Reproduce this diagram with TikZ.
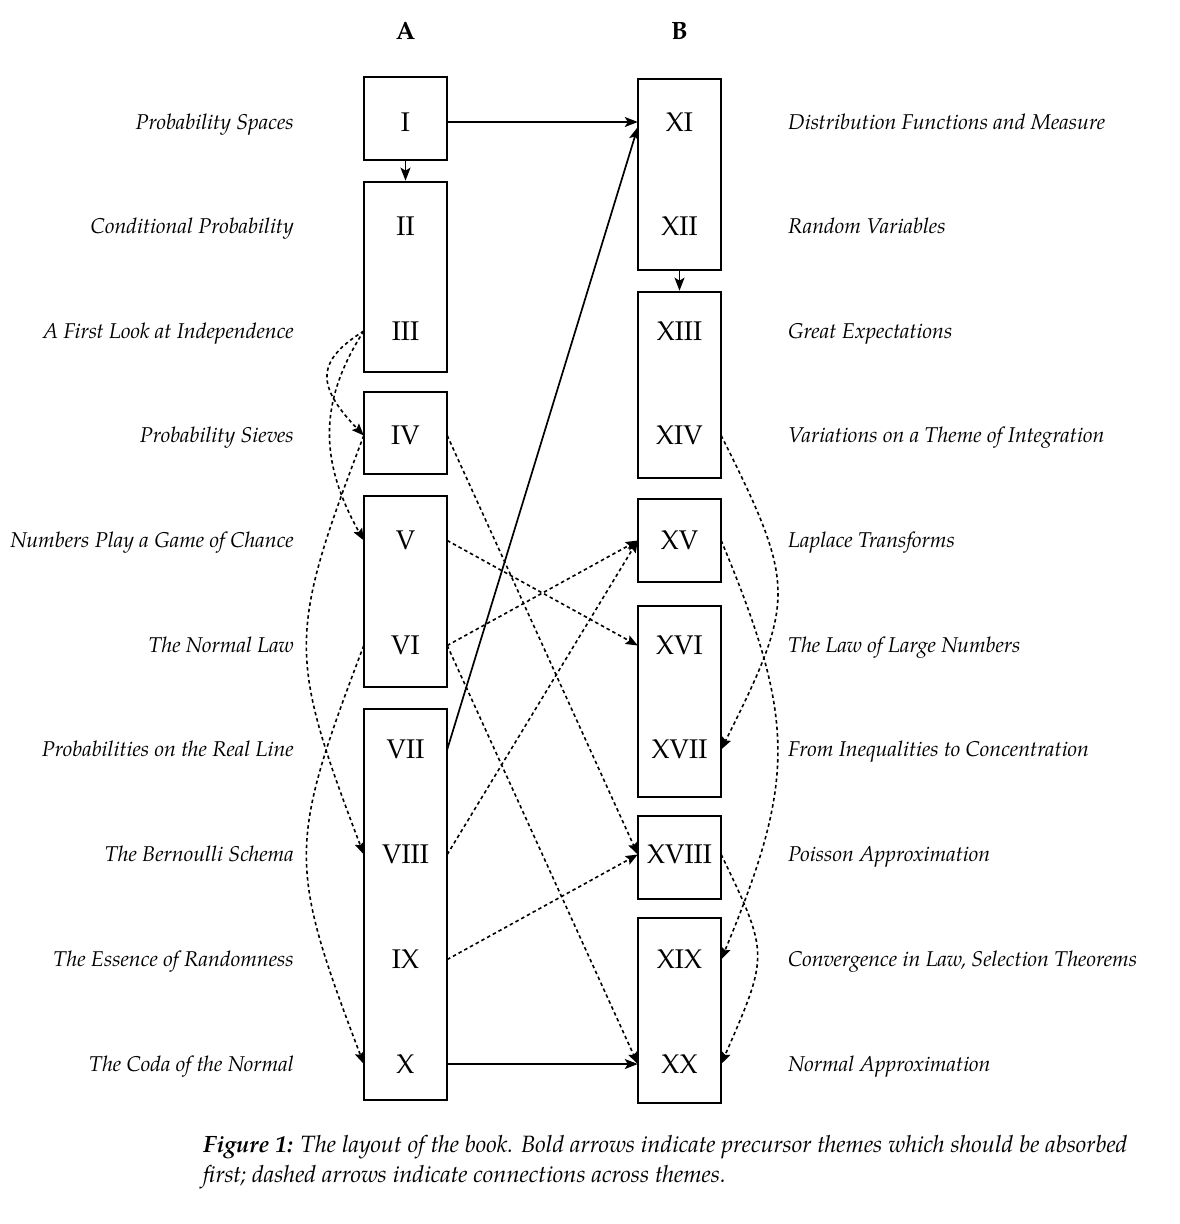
\documentclass[tikz,border=0pt]{standalone}
\usepackage{fontspec}
\setmainfont{texgyrepagella}[Extension=.otf, UprightFont=*-regular, ItalicFont=*-italic, BoldFont=*-bold, BoldItalicFont=*-bolditalic]
\usetikzlibrary{arrows.meta}
\tikzset{
  num/.style={minimum width=83pt, inner sep=0pt, font=\fontsize{27pt}{32pt}\selectfont},
  box/.style={draw, line width=1.4pt, inner sep=0pt, minimum width=83pt},
  tbox/.style={box, line width=2.7pt},
  lab/.style={inner sep=0pt, font=\fontsize{21.4pt}{26pt}\selectfont\itshape},
  llab/.style={lab, anchor=base east},
  rlab/.style={lab, anchor=base west},
  caplab/.style={inner sep=0pt, anchor=base west, font=\fontsize{23.6pt}{28pt}\selectfont\itshape},
  solidarr/.style={line width=1.7pt, -{Stealth[length=13pt,width=10pt,inset=3pt]}},
  dsh/.style={line width=1.6pt, dash pattern=on 3.5pt off 3pt, -{Stealth[length=12pt,width=9.5pt,inset=2pt]}},
}
\begin{document}
\begin{tikzpicture}[x=1pt,y=-1pt]
\useasboundingbox (0,0) rectangle (1180,1224);
% column titles
\node[font=\fontsize{25pt}{30pt}\selectfont\bfseries] (tA) at (405.5,31) {A};
\node[font=\fontsize{25pt}{30pt}\selectfont\bfseries] (tB) at (679.5,31) {B};
% boxes column A
\node[tbox, minimum height=83pt] (bI) at (405.5,118.5) {};
\node[tbox, minimum height=190pt] (bII) at (405.5,277) {};
\node[box, minimum height=82pt] (bIV) at (405.5,433) {};
\node[box, minimum height=191pt] (bV) at (405.5,591.5) {};
\node[box, minimum height=391pt] (bVII) at (405.5,904.5) {};
% boxes column B
\node[tbox, minimum height=191pt] (bXI) at (679.5,174.5) {};
\node[tbox, minimum height=186pt] (bXIII) at (679.5,385) {};
\node[box, minimum height=83pt] (bXV) at (679.5,540.5) {};
\node[box, minimum height=191pt] (bXVI) at (679.5,701.5) {};
\node[box, minimum height=83pt] (bXVIII) at (679.5,857.5) {};
\node[box, minimum height=185pt] (bXIX) at (679.5,1010.5) {};
% numerals A
\node[num] (n1) at (405.5,122) {I};
\node[num] (n2) at (405.5,226.5) {II};
\node[num] (n3) at (405.5,331) {III};
\node[num] (n4) at (405.5,435.5) {IV};
\node[num] (n5) at (405.5,540.5) {V};
\node[num] (n6) at (405.5,645.5) {VI};
\node[num] (n7) at (405.5,749.5) {VII};
\node[num] (n8) at (405.5,854.5) {VIII};
\node[num] (n9) at (405.5,959.5) {IX};
\node[num] (n10) at (405.5,1064) {X};
% numerals B
\node[num] (n11) at (679.5,122) {XI};
\node[num] (n12) at (679.5,226.5) {XII};
\node[num] (n13) at (679.5,331) {XIII};
\node[num] (n14) at (679.5,435.5) {XIV};
\node[num] (n15) at (679.5,540.5) {XV};
\node[num] (n16) at (679.5,645.5) {XVI};
\node[num] (n17) at (679.5,749.5) {XVII};
\node[num] (n18) at (679.5,854.5) {XVIII};
\node[num] (n19) at (679.5,959.5) {XIX};
\node[num] (n20) at (679.5,1064) {XX};
% left labels
\node[llab] (l1) at (294,129) {Probability Spaces};
\node[llab] (l2) at (294,233.5) {Conditional Probability};
\node[llab] (l3) at (294,338) {A First Look at Independence};
\node[llab] (l4) at (294,442.5) {Probability Sieves};
\node[llab] (l5) at (294,547.5) {Numbers Play a Game of Chance};
\node[llab] (l6) at (294,652.5) {The Normal Law};
\node[llab] (l7) at (294,756.5) {Probabilities on the Real Line};
\node[llab] (l8) at (294,861.5) {The Bernoulli Schema};
\node[llab] (l9) at (294,966.5) {The Essence of Randomness};
\node[llab] (l10) at (294,1071) {The Coda of the Normal};
% right labels
\node[rlab] (r11) at (788,129) {Distribution Functions and Measure};
\node[rlab] (r12) at (788,233.5) {Random Variables};
\node[rlab] (r13) at (788,338) {Great Expectations};
\node[rlab] (r14) at (788,442.5) {Variations on a Theme of Integration};
\node[rlab] (r15) at (788,547.5) {Laplace Transforms};
\node[rlab] (r16) at (788,652.5) {The Law of Large Numbers};
\node[rlab] (r17) at (788,756.5) {From Inequalities to Concentration};
\node[rlab] (r18) at (788,861.5) {Poisson Approximation};
\node[rlab] (r19) at (788,966.5) {Convergence in Law, Selection Theorems};
\node[rlab] (r20) at (788,1071) {Normal Approximation};
% solid arrows
\draw[solidarr] (n1.east) -- (n11.west);
\draw[solidarr] (bI.south) -- (bII.north);
\draw[solidarr] (bXI.south) -- (bXIII.north);
\draw[solidarr] (n7.east) -- ([yshift=-5pt]n11.west);
\draw[solidarr] (n10.east) -- (n20.west);
% dashed arrows, left side
\draw[dsh] (n3.west) .. controls +(-48,30) and +(-48,-50) .. (n4.west);
\draw[dsh] (n3.west) .. controls +(-45,70) and +(-45,-80) .. (n5.west);
\draw[dsh] (n4.west) .. controls +(-76,200) and +(-76,-200) .. (n8.west);
\draw[dsh] (n6.west) .. controls +(-76,200) and +(-76,-200) .. (n10.west);
% dashed arrows, across
\draw[dsh] (n4.east) -- (n18.west);
\draw[dsh] (n5.east) -- (n16.west);
\draw[dsh] (n6.east) -- (n15.west);
\draw[dsh] (n6.east) -- (n20.west);
\draw[dsh] (n8.east) -- (n15.west);
\draw[dsh] (n9.east) -- (n18.west);
% dashed arrows, right side
\draw[dsh] (n14.east) .. controls +(75,150) and +(75,-150) .. (n17.east);
\draw[dsh] (n15.east) .. controls +(75,180) and +(75,-180) .. (n19.east);
\draw[dsh] (n18.east) .. controls +(48,100) and +(48,-110) .. (n20.east);
% caption
\node[caplab] (cap1) at (203,1152) {\textbf{Figure 1:} The layout of the book. Bold arrows indicate precursor themes which should be absorbed};
\node[caplab] (cap2) at (203,1182) {first; dashed arrows indicate connections across themes.};
\end{tikzpicture}
\end{document}
